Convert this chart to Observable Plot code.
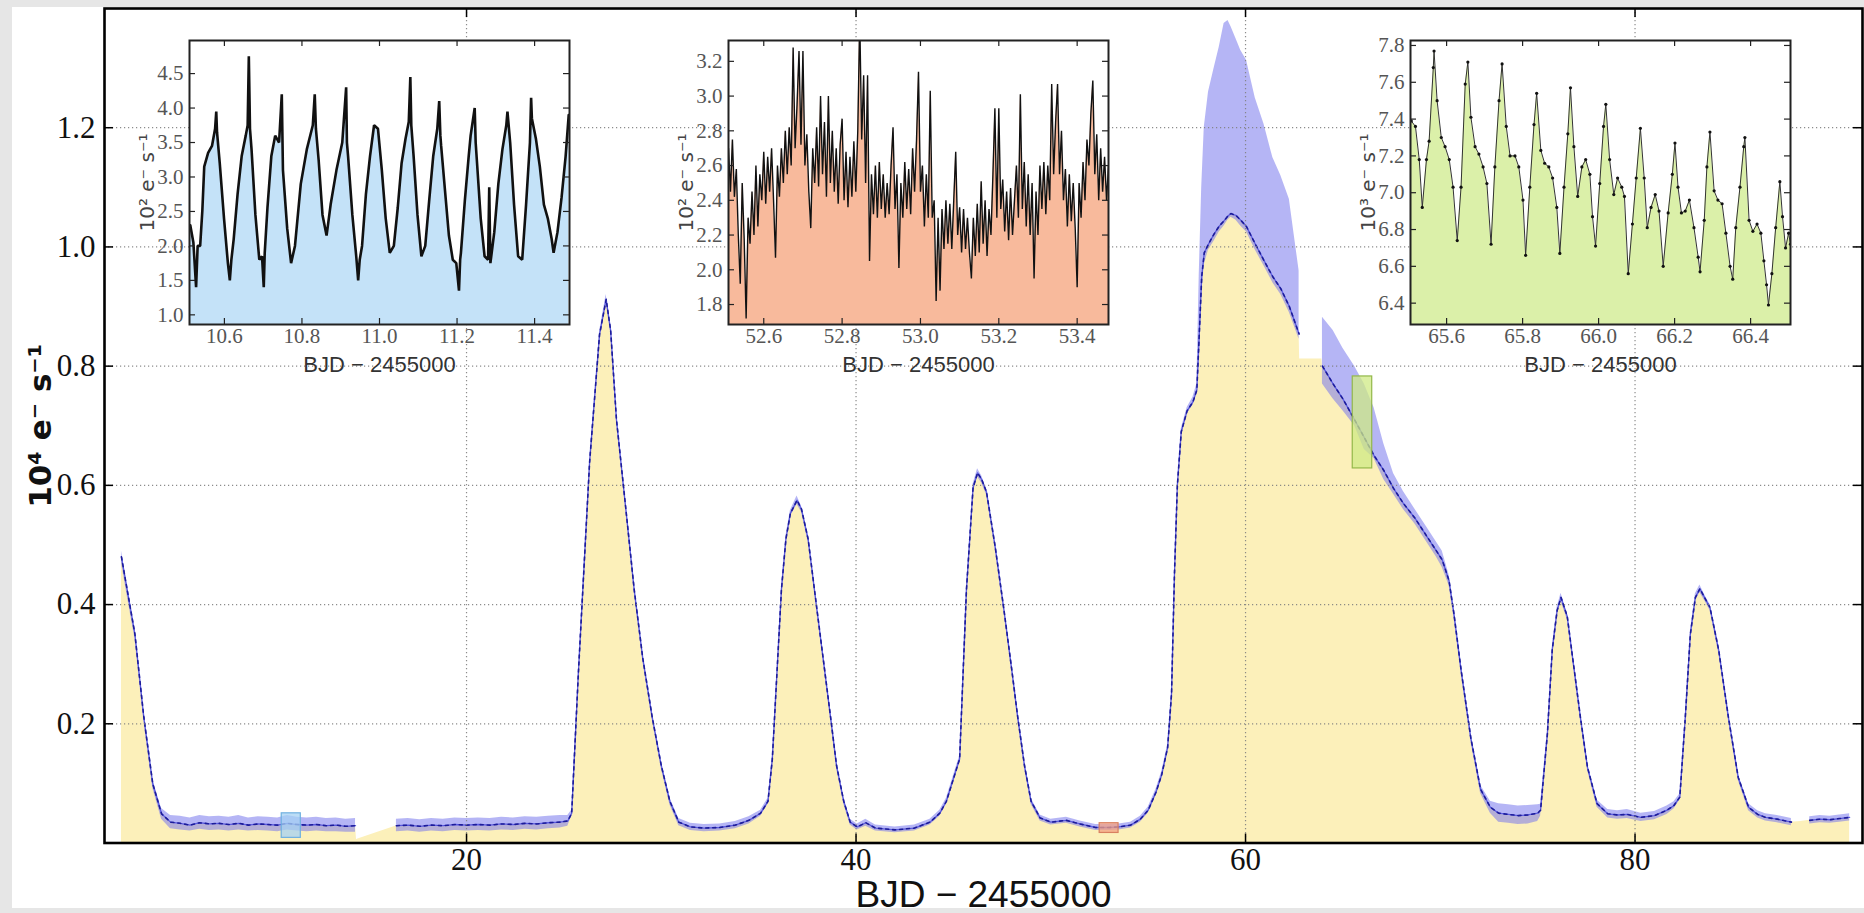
<!DOCTYPE html>
<html><head><meta charset="utf-8">
<script src="https://cdn.jsdelivr.net/npm/d3@7"></script>
<script src="https://cdn.jsdelivr.net/npm/@observablehq/plot@0.6"></script>
<style>
html,body{margin:0;padding:0;background:#e6e6e6;width:1864px;height:913px;overflow:hidden}
#panel{position:absolute;left:12px;top:7px;width:1852px;height:901px;background:#fff}
#main{position:absolute;left:0;top:0}
.inset{position:absolute;top:34px}
</style></head><body>
<div id="panel"></div>
<div id="main"></div>
<div id="in1" class="inset" style="left:109px"></div>
<div id="in2" class="inset" style="left:648px"></div>
<div id="in3" class="inset" style="left:1330px"></div>
<script>
// ---------- main light curve (t, level, band low, band high) in 10^4 e-/s ----------
const seg1 = [
 [2.28,.48,.47,.49],[2.6,.42,.41,.43],[2.97,.351,.343,.359],[3.43,.211,.204,.218],[3.89,.099,.092,.106],
 [4.34,.049,.040,.058],[4.8,.035,.024,.046],[5.3,.033,.022,.045],[5.8,.030,.020,.042],[6.3,.034,.023,.046],
 [6.8,.032,.021,.044],[7.3,.033,.022,.045],[7.8,.031,.020,.043],[8.3,.033,.022,.046],[8.8,.030,.020,.042],
 [9.3,.032,.021,.044],[9.8,.031,.020,.043],[10.3,.030,.019,.042],[10.8,.033,.022,.046],[11.3,.031,.020,.043],
 [11.8,.030,.019,.042],[12.3,.031,.020,.043],[12.8,.029,.019,.041],[13.3,.030,.019,.042],[13.8,.028,.018,.040],
 [14.3,.029,.018,.041]
];
const seg2 = [
 [16.4,.029,.019,.040],[17.0,.030,.020,.041],[17.6,.028,.018,.039],[18.2,.030,.020,.041],[18.8,.029,.019,.040],
 [19.4,.031,.021,.042],[20.0,.030,.020,.041],[20.6,.031,.021,.042],[21.2,.030,.020,.041],[21.8,.032,.022,.043],
 [22.4,.031,.021,.042],[23.0,.033,.023,.044],[23.6,.032,.022,.043],[24.2,.034,.024,.045],[24.8,.035,.025,.046],
 [25.2,.037,.028,.046],[25.4,.05,.045,.055],[25.74,.283,.278,.288],[26.32,.639,.634,.644],[26.83,.853,.848,.858],
 [27.17,.912,.905,.92],[27.4,.86,.855,.865],[27.7,.71,.705,.715],[28.15,.57,.565,.575],[28.61,.425,.42,.43],
 [29.05,.31,.305,.315],[29.53,.212,.207,.217],[30.0,.13,.125,.135],[30.44,.07,.064,.076],[30.9,.035,.029,.041],
 [31.5,.027,.021,.033],[32.2,.025,.019,.031],[33.0,.026,.020,.032],[33.8,.030,.024,.036],[34.5,.038,.032,.044],
 [35.1,.05,.045,.055],[35.48,.07,.065,.075],[35.7,.14,.135,.145],[36.17,.425,.42,.43],[36.4,.51,.505,.515],
 [36.63,.553,.548,.558],[36.97,.575,.568,.582],[37.2,.56,.555,.565],[37.54,.51,.505,.515],[38.0,.39,.385,.395],
 [38.35,.30,.295,.305],[38.69,.212,.207,.217],[39.0,.13,.125,.135],[39.37,.07,.065,.075],[39.7,.035,.03,.04],
 [40.06,.027,.022,.032],[40.5,.034,.028,.04],[41.0,.025,.02,.03],[42.0,.022,.017,.027],[43.0,.025,.02,.03],
 [43.8,.035,.03,.04],[44.3,.05,.045,.055],[44.64,.07,.065,.075],[45.32,.141,.136,.146],[45.67,.425,.42,.43],
 [46.01,.596,.59,.602],[46.24,.621,.614,.628],[46.45,.61,.604,.616],[46.7,.589,.584,.594],[47.15,.496,.491,.501],
 [47.6,.39,.385,.395],[48.0,.29,.285,.295],[48.3,.212,.207,.217],[48.65,.13,.125,.135],[48.99,.07,.065,.075],
 [49.45,.042,.037,.047],[50.0,.035,.03,.04],[50.8,.038,.033,.043],[51.5,.032,.027,.037],[52.3,.026,.021,.031],
 [53.0,.026,.021,.031],[53.5,.027,.022,.032],[54.1,.03,.025,.035],[54.6,.04,.035,.045],[55.0,.055,.05,.06],
 [55.4,.085,.08,.09],[55.7,.115,.11,.12],[56.0,.16,.155,.165],[56.2,.25,.245,.255],[56.35,.45,.445,.455],
 [56.5,.60,.595,.605],[56.7,.69,.685,.695],[57.0,.725,.72,.73],[57.3,.74,.735,.748],[57.5,.76,.755,.77],
 [57.62,.85,.80,.95],[57.75,.95,.92,1.10],[57.88,.99,.97,1.2],[58.1,1.005,.995,1.26],[58.39,1.022,1.01,1.30],
 [58.65,1.035,1.025,1.335],[58.9,1.044,1.035,1.375],[59.1,1.052,1.045,1.38],[59.25,1.056,1.05,1.37],
 [59.5,1.053,1.045,1.35],[59.75,1.045,1.035,1.33],[60.05,1.034,1.025,1.313],[60.5,1.005,.995,1.25],
 [60.95,.977,.968,1.206],[61.4,.95,.94,1.15],[61.81,.93,.92,1.12],[62.25,.90,.89,1.08],[62.75,.854,.845,.96]
];
const seg3 = [
 [63.95,.80,.77,.882],[64.5,.77,.745,.86],[65.0,.745,.725,.83],[65.6,.71,.70,.80],[66.1,.68,.66,.77],
 [66.6,.65,.645,.73],[67.1,.625,.61,.67],[67.6,.595,.585,.62],[68.1,.57,.56,.59],[68.7,.545,.535,.56],
 [69.3,.515,.505,.53],[69.8,.49,.48,.505],[70.1,.475,.462,.49],[70.45,.44,.432,.45],[70.7,.385,.378,.392],
 [71.07,.29,.284,.296],[71.57,.176,.17,.182],[72.07,.09,.083,.097],[72.57,.06,.05,.07],[73.0,.05,.035,.066],
 [73.5,.048,.033,.064],[74.0,.046,.031,.062],[74.5,.047,.032,.063],[75.0,.05,.036,.064],[75.15,.055,.045,.065],
 [75.5,.183,.178,.188],[75.75,.324,.319,.329],[76.0,.39,.385,.395],[76.2,.412,.405,.419],[76.52,.38,.375,.385],
 [76.86,.295,.29,.30],[77.2,.21,.205,.215],[77.56,.127,.122,.132],[78.05,.066,.06,.072],[78.6,.049,.042,.056],
 [79.1,.047,.04,.054],[79.6,.048,.041,.056],[80.3,.043,.036,.05],[81.0,.046,.039,.053],[81.64,.055,.048,.062],
 [82.0,.063,.057,.069],[82.3,.077,.072,.082],[82.58,.21,.205,.215],[82.84,.35,.345,.355],[83.1,.412,.406,.418],
 [83.33,.4265,.42,.433],[83.6,.41,.405,.415],[83.85,.395,.39,.40],[84.3,.323,.318,.328],[84.8,.21,.205,.215],
 [85.3,.11,.105,.115],[85.83,.06,.054,.066],[86.3,.048,.042,.054],[86.7,.043,.037,.049],[87.3,.040,.034,.046],
 [88.03,.035,.029,.041]
];
const seg4 = [
 [88.97,.038,.032,.044],[89.5,.040,.034,.046],[90.0,.039,.033,.045],[90.5,.041,.035,.047],[91.02,.043,.037,.049]
];
// fill level across the data gaps
const gapFill = [[14.35,.006],[16.35,.028],[62.78,.812],[63.92,.812],[88.5,.036]];

const mainXTicks = [20, 40, 60, 80];
const mainYTicks = [0.2, 0.4, 0.6, 0.8, 1.0, 1.2];

// ---------- insets ----------
const inset1Flux = [ // 10^2 e-/s
 [10.512,2.3],[10.52,2.05],[10.527,1.4],[10.531,2.0],[10.5375,2.0],[10.543,2.5],[10.548,3.15],[10.558,3.35],[10.568,3.45],[10.576,3.7],[10.579,3.95],[10.581,3.65],[10.588,3.2],[10.599,2.4],[10.609,1.75],[10.614,1.5],[10.618,1.8],[10.624,2.1],[10.634,2.75],[10.6445,3.3],[10.655,3.6],[10.66,3.75],[10.663,4.75],[10.666,3.7],[10.67,3.4],[10.68,2.45],[10.69,1.8],[10.697,1.85],[10.7015,1.4],[10.704,1.9],[10.711,2.55],[10.721,3.3],[10.731,3.6],[10.741,3.5],[10.748,4.2],[10.751,3.1],[10.762,2.25],[10.772,1.75],[10.782,2.0],[10.797,2.9],[10.8125,3.4],[10.828,3.75],[10.833,4.2],[10.836,3.7],[10.843,3.25],[10.853,2.45],[10.8635,2.15],[10.874,2.6],[10.889,3.1],[10.904,3.5],[10.914,4.3],[10.916,3.5],[10.919,3.3],[10.93,2.45],[10.94,1.85],[10.945,1.5],[10.949,1.8],[10.955,2.0],[10.965,2.75],[10.9755,3.3],[10.986,3.75],[10.996,3.7],[11.006,3.1],[11.016,2.4],[11.0265,1.9],[11.037,2.0],[11.047,2.55],[11.057,3.2],[11.067,3.55],[11.0755,3.8],[11.0795,4.45],[11.082,3.75],[11.088,3.3],[11.098,2.45],[11.108,1.85],[11.118,2.0],[11.128,2.65],[11.1385,3.3],[11.149,3.7],[11.154,4.1],[11.157,3.6],[11.159,3.45],[11.169,2.8],[11.179,2.15],[11.189,1.8],[11.198,1.75],[11.205,1.35],[11.208,1.8],[11.21,1.9],[11.22,2.65],[11.23,3.3],[11.235,3.6],[11.2455,4.0],[11.248,3.5],[11.251,3.25],[11.261,2.4],[11.271,1.85],[11.28,1.8],[11.283,2.85],[11.286,1.75],[11.296,2.2],[11.3065,2.9],[11.317,3.4],[11.327,3.75],[11.33,3.95],[11.337,3.5],[11.347,2.6],[11.3575,1.85],[11.368,1.8],[11.378,2.6],[11.388,3.5],[11.391,4.15],[11.393,3.85],[11.4035,3.55],[11.4135,3.15],[11.424,2.6],[11.434,2.4],[11.444,2.1],[11.449,1.9],[11.459,2.2],[11.4695,2.7],[11.48,3.3],[11.488,3.9]
];
const inset2Start = 52.51, inset2Step = 0.005;
const inset2Flux = [ // 10^2 e-/s, one value per 0.005 d
 2.7,2.45,2.75,2.42,2.58,2.2,1.92,2.5,2.18,1.72, 2.3,2.15,2.45,2.2,2.6,2.25,2.55,2.4,2.68,2.38,
 2.65,2.45,2.7,2.4,2.07,2.6,2.42,2.7,2.5,2.8, 2.55,2.82,2.6,3.28,2.7,2.95,3.26,2.72,3.26,2.6,
 2.78,2.45,2.24,2.7,2.5,2.82,2.48,3.0,2.55,2.85, 2.42,3.0,2.5,2.8,2.45,2.7,2.38,2.72,2.87,2.4,
 2.68,2.36,2.65,2.42,2.74,2.45,2.8,3.45,2.75,3.12, 2.5,3.12,2.05,2.55,2.32,2.6,2.3,2.62,2.35,2.55,
 2.3,2.5,2.32,2.6,2.82,2.35,2.55,2.01,2.5,2.3, 2.62,2.35,2.58,2.32,2.7,2.45,2.75,3.14,2.45,2.6,
 2.25,2.55,2.3,3.03,2.3,2.4,1.82,2.3,1.88,2.35, 2.12,2.4,2.15,2.38,2.12,2.4,2.68,2.2,2.36,2.1,
 2.35,2.12,2.3,2.1,1.95,2.3,2.08,2.38,2.1,2.51, 2.15,2.4,2.08,2.35,2.2,2.55,2.93,2.3,2.93,2.35,
 2.52,2.22,2.45,2.17,2.47,2.2,2.4,2.6,2.3,3.01, 2.35,2.62,2.25,2.55,2.2,2.5,1.95,2.45,2.2,2.6,
 2.35,2.62,2.32,2.6,2.4,3.07,2.55,2.85,3.07,2.55, 2.8,2.4,2.58,2.25,2.55,2.28,2.5,2.24,1.9,2.5,
 2.3,2.62,2.4,2.75,2.6,2.9,3.09,2.55,2.78,2.4, 2.7,2.45,2.65,2.4,2.6
];
const inset3Flux = [ // 10^3 e-/s
 [65.507,7.39],[65.518,7.36],[65.528,7.18],[65.536,6.92],[65.547,7.18],[65.554,7.28],[65.565,7.68],[65.567,7.77],[65.575,7.5],[65.586,7.3],[65.596,7.25],[65.607,7.18],[65.617,7.03],[65.628,6.74],[65.638,7.03],[65.649,7.59],[65.656,7.71],[65.664,7.41],[65.675,7.25],[65.685,7.21],[65.696,7.14],[65.706,7.05],[65.717,6.72],[65.727,7.14],[65.738,7.5],[65.746,7.7],[65.757,7.36],[65.767,7.2],[65.78,7.2],[65.79,7.14],[65.801,6.96],[65.808,6.66],[65.819,7.03],[65.83,7.37],[65.837,7.54],[65.848,7.23],[65.858,7.16],[65.869,7.14],[65.879,7.08],[65.89,6.92],[65.898,6.67],[65.909,7.03],[65.919,7.32],[65.926,7.57],[65.935,7.25],[65.945,6.98],[65.956,7.14],[65.966,7.18],[65.977,7.1],[65.984,6.87],[65.992,6.71],[66.003,7.05],[66.013,7.36],[66.019,7.48],[66.029,7.18],[66.04,6.99],[66.05,7.08],[66.061,7.03],[66.068,6.98],[66.078,6.56],[66.089,6.83],[66.099,7.08],[66.11,7.35],[66.12,7.08],[66.128,6.81],[66.138,6.92],[66.149,6.99],[66.159,6.9],[66.17,6.6],[66.183,6.89],[66.194,7.1],[66.201,7.27],[66.209,7.03],[66.218,6.89],[66.228,6.9],[66.239,6.96],[66.251,6.81],[66.262,6.65],[66.267,6.57],[66.278,6.85],[66.285,7.14],[66.293,7.33],[66.304,7.01],[66.314,6.96],[66.325,6.94],[66.335,6.78],[66.346,6.6],[66.353,6.53],[66.361,6.81],[66.372,7.03],[66.382,7.25],[66.385,7.3],[66.396,6.85],[66.406,6.79],[66.417,6.83],[66.427,6.78],[66.435,6.63],[66.442,6.5],[66.447,6.39],[66.456,6.56],[66.466,6.81],[66.477,7.06],[66.484,6.87],[66.492,6.7],[66.5,6.78],[66.505,6.72]
];
const inset1XDomain = [10.51, 11.49], inset1YDomain = [0.86, 4.98];
const inset2XDomain = [52.51, 53.48], inset2YDomain = [1.685, 3.32];
const inset3XDomain = [65.505, 66.505], inset3YDomain = [6.284, 7.827];
const inset1XTicks = [10.6, 10.8, 11.0, 11.2, 11.4], inset1YTicks = [1.0, 1.5, 2.0, 2.5, 3.0, 3.5, 4.0, 4.5];
const inset2XTicks = [52.6, 52.8, 53.0, 53.2, 53.4], inset2YTicks = [1.8, 2.0, 2.2, 2.4, 2.6, 2.8, 3.0, 3.2];
const inset3XTicks = [65.6, 65.8, 66.0, 66.2, 66.4], inset3YTicks = [6.4, 6.6, 6.8, 7.0, 7.2, 7.4, 7.6, 7.8];
const insetLabels = ["10² e⁻ s⁻¹", "10² e⁻ s⁻¹", "10³ e⁻ s⁻¹"];
const insetScale = [100, 100, 10]; // inset unit relative to 10^4 e-/s
const insetFills = ["#c4e2f8", "#f8ba9c", "#dbf0a9"];
const boxFills = ["#a6d2f3", "#f3a183", "#cfea84"];
const boxStrokes = ["#6fb0e0", "#d98060", "#93b84a"];
const xLabelText = "BJD − 2455000";
const yLabelText = "10⁴ e⁻ s⁻¹";

// ---------- build tables ----------
const bandData = [];
[seg1, seg2, seg3, seg4].forEach((s, k) => s.forEach(([t, y, lo, hi]) => bandData.push({t, y, lo, hi, seg: k})));
const fillData = bandData.map(d => ({t: d.t, y: d.y})).concat(gapFill.map(([t, y]) => ({t, y}))).sort((a, b) => a.t - b.t);

const insetDomains = [[inset1XDomain, inset1YDomain], [inset2XDomain, inset2YDomain], [inset3XDomain, inset3YDomain]];
const boxData = insetDomains.map(([xd, yd], i) => ({x1: xd[0], x2: xd[1], y1: yd[0] / insetScale[i], y2: yd[1] / insetScale[i], fill: boxFills[i], stroke: boxStrokes[i]}));

const in1 = inset1Flux.map(([t, v]) => ({t, v}));
const in2 = inset2Flux.map((v, i) => ({t: inset2Start + i * inset2Step, v}));
const in3 = inset3Flux.map(([t, v]) => ({t, v}));

// ---------- main plot ----------
const MW = 1864, MH = 913, ML = 104, MR = 2, MT = 8, MB = 70.5;
const innerW = MW - ML - MR, innerH = MH - MT - MB;
const gridStyle = {stroke: "#808080", strokeOpacity: 0.9, strokeWidth: 1.2, strokeDasharray: "1.2,2.8"};
const mainPlot = Plot.plot({
  width: MW, height: MH, marginLeft: ML, marginRight: MR, marginTop: MT, marginBottom: MB,
  style: {background: "transparent", overflow: "visible", fontFamily: "Liberation Serif"},
  x: {domain: [1.41, 91.68]},
  y: {domain: [0, 1.4]},
  marks: [
    Plot.areaY(fillData, {x: "t", y: "y", fill: "#fcf0ba"}),
    Plot.areaY(bandData, {x: "t", y1: "lo", y2: "hi", z: "seg", fill: "#7878ec", fillOpacity: 0.55}),
    Plot.line(bandData, {x: "t", y: "y", z: "seg", stroke: "#5a5ae0", strokeWidth: 1.3}),
    Plot.line(bandData, {x: "t", y: "y", z: "seg", stroke: "#1c1c9a", strokeWidth: 1.6, strokeDasharray: "3,4"}),
    Plot.rect(boxData, {x1: "x1", x2: "x2", y1: "y1", y2: "y2", fill: "fill", stroke: "stroke", fillOpacity: 0.75, strokeWidth: 1.2}),
    Plot.gridX(mainXTicks, gridStyle),
    Plot.gridY(mainYTicks, gridStyle),
    Plot.tickX(mainXTicks, {x: d => d, insetTop: innerH - 9, stroke: "#000", strokeWidth: 1.5}),
    Plot.tickX(mainXTicks, {x: d => d, insetBottom: innerH - 9, stroke: "#000", strokeWidth: 1.5}),
    Plot.tickY(mainYTicks, {y: d => d, insetRight: innerW - 9, stroke: "#000", strokeWidth: 1.5}),
    Plot.tickY(mainYTicks, {y: d => d, insetLeft: innerW - 9, stroke: "#000", strokeWidth: 1.5}),
    Plot.axisX(mainXTicks, {tickSize: 0, tickPadding: 5, fontSize: 31, fontFamily: "Liberation Serif", color: "#111", label: null, tickFormat: d3.format("d")}),
    Plot.axisY(mainYTicks, {tickSize: 0, tickPadding: 9, fontSize: 31, fontFamily: "Liberation Serif", color: "#111", label: null, tickFormat: d3.format(".1f")}),
    Plot.frame({stroke: "#000", strokeWidth: 2.6}),
    Plot.text([xLabelText], {text: d => d, frameAnchor: "bottom", textAnchor: "middle", dy: 63.5, lineAnchor: "bottom", fontSize: 37, fontFamily: "Liberation Sans", fill: "#111"}),
    Plot.text([yLabelText], {text: d => d, frameAnchor: "left", textAnchor: "middle", dx: -54, rotate: -90, lineAnchor: "bottom", fontSize: 31, fontWeight: "bold", fontFamily: "DejaVu Sans", fill: "#111"})
  ]
});
document.getElementById("main").append(mainPlot);

// ---------- inset plots ----------
function inset(data, xDomain, yDomain, xTicks, yTicks, fill, label, lineW, dots) {
  const fw = 380, fh = 284, ml = 80, mr = 6, mt = 6, mb = 60;
  const tickStyle = {stroke: "#222", strokeWidth: 1.2};
  return Plot.plot({
    width: fw + ml + mr, height: fh + mt + mb, marginLeft: ml, marginRight: mr, marginTop: mt, marginBottom: mb,
    style: {background: "transparent", overflow: "visible", fontFamily: "Liberation Serif"},
    x: {domain: xDomain}, y: {domain: yDomain},
    marks: [
      Plot.frame({fill: "white", stroke: "none"}),
      Plot.areaY(data, {x: "t", y1: yDomain[0], y2: "v", fill, clip: true}),
      Plot.line(data, {x: "t", y: "v", stroke: dots ? "#333" : "#111", strokeWidth: lineW, strokeLinejoin: "miter", clip: true}),
      dots ? Plot.dot(data, {x: "t", y: "v", r: 1.6, fill: "#111", clip: true}) : null,
      Plot.tickX(xTicks, {x: d => d, insetTop: fh - 6, ...tickStyle}),
      Plot.tickX(xTicks, {x: d => d, insetBottom: fh - 6, ...tickStyle}),
      Plot.tickY(yTicks, {y: d => d, insetRight: fw - 6, ...tickStyle}),
      Plot.tickY(yTicks, {y: d => d, insetLeft: fw - 6, ...tickStyle}),
      Plot.axisX(xTicks, {tickSize: 0, tickPadding: 4, fontSize: 21, fontFamily: "Liberation Serif", color: "#555", label: null, tickFormat: d3.format(".1f")}),
      Plot.axisY(yTicks, {tickSize: 0, tickPadding: 6, fontSize: 21, fontFamily: "Liberation Serif", color: "#555", label: null, tickFormat: d3.format(".1f")}),
      Plot.frame({stroke: "#222", strokeWidth: 2}),
      Plot.text([xLabelText], {text: d => d, frameAnchor: "bottom", textAnchor: "middle", dy: 47, lineAnchor: "bottom", fontSize: 22, fontFamily: "Liberation Sans", fill: "#333"}),
      Plot.text([label], {text: d => d, frameAnchor: "left", textAnchor: "middle", dx: -36, rotate: -90, lineAnchor: "bottom", fontSize: 20, fontFamily: "DejaVu Sans", fill: "#444"})
    ]
  });
}
document.getElementById("in1").append(inset(in1, inset1XDomain, inset1YDomain, inset1XTicks, inset1YTicks, insetFills[0], insetLabels[0], 2.6, false));
document.getElementById("in2").append(inset(in2, inset2XDomain, inset2YDomain, inset2XTicks, inset2YTicks, insetFills[1], insetLabels[1], 1.4, false));
document.getElementById("in3").append(inset(in3, inset3XDomain, inset3YDomain, inset3XTicks, inset3YTicks, insetFills[2], insetLabels[2], 1, true));
</script>
</body></html>
